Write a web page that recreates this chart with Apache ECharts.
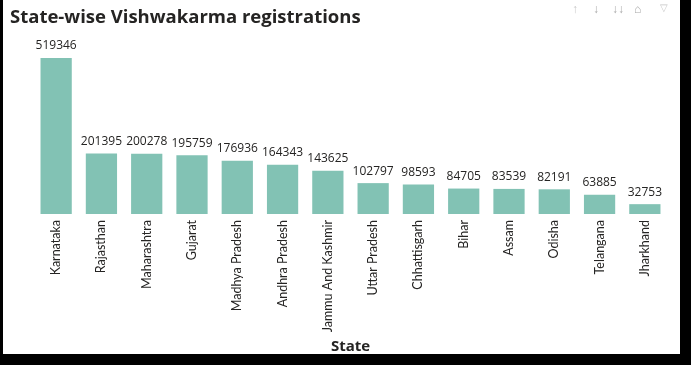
<!DOCTYPE html>
<html><head><meta charset="utf-8">
<script src="https://cdn.jsdelivr.net/npm/echarts@6/dist/echarts.min.js"></script>
<style>
html,body{margin:0;padding:0;background:#000;width:691px;height:365px;overflow:hidden}
#c{position:absolute;left:3px;top:0;width:677px;height:354px;background:#fff}
</style></head><body>
<div id="c"></div>
<script>
const states = ["Karnataka","Rajasthan","Maharashtra","Gujarat","Madhya Pradesh","Andhra Pradesh","Jammu And Kashmir","Uttar Pradesh","Chhattisgarh","Bihar","Assam","Odisha","Telangana","Jharkhand"];
const registrations = [519346,201395,200278,195759,176936,164343,143625,102797,98593,84705,83539,82191,63885,32753];
const chart = echarts.init(document.getElementById('c'));
const font = "'Open Sans', 'Noto Sans', sans-serif";
chart.setOption({
  animation:false,
  backgroundColor:'#fff',
  title:{text:'State-wise Vishwakarma registrations',left:2,top:3,
    textStyle:{fontFamily:font,fontSize:18.5,fontWeight:'bold',color:'#252423'}},
  grid:{left:30.5,right:12.5,top:58,bottom:140,containLabel:false,outerBoundsMode:'none'},
  xAxis:{type:'category',data:states,name:'State',nameLocation:'middle',nameGap:125,nameMoveOverlap:false,
    nameTextStyle:{fontFamily:font,fontSize:15,fontWeight:'bold',color:'#252423'},
    axisLine:{show:false},axisTick:{show:false},
    axisLabel:{rotate:90,interval:0,margin:6,fontFamily:"Lato, 'Open Sans', sans-serif",fontSize:12.5,color:'#252423'}},
  yAxis:{type:'value',min:0,max:519346,show:false,splitLine:{show:false}},
  series:[{type:'bar',data:registrations,barCategoryGap:'31%',
    itemStyle:{color:'#82c2b4'},
    label:{show:true,position:'top',distance:6,fontFamily:font,fontSize:12,color:'#252423'}}],
  graphic:[
    {type:'text',left:569,top:4,style:{text:'↑',fill:'#c8c8c8',font:'12px '+font}},
    {type:'text',left:590,top:4,style:{text:'↓',fill:'#aaa',font:'12px '+font}},
    {type:'text',left:609,top:4,style:{text:'↓↓',fill:'#aaa',font:'12px '+font}},
    {type:'text',left:631,top:4,style:{text:'⌂',fill:'#aaa',font:'12px '+font}},
    {type:'text',left:657,top:3,style:{text:'▽',fill:'#c8c8c8',font:'10px '+font}}
  ]
});
</script></body></html>
